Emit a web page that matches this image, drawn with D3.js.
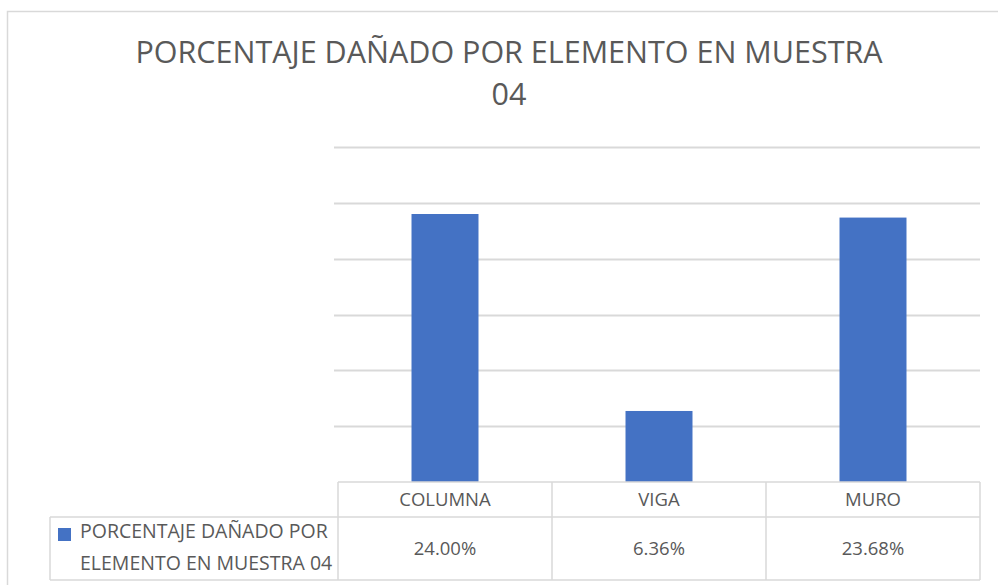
<!DOCTYPE html>
<html>
<head>
<meta charset="utf-8">
<script src="https://cdn.jsdelivr.net/npm/d3@7"></script>
<style>
  body { margin: 0; background: #fff; }
  text { font-family: "Open Sans", sans-serif; fill: #595959; }
</style>
</head>
<body>
<div id="chart"></div>
<script>
// data
var categories = ["COLUMNA", "VIGA", "MURO"];
var values = [24.00, 6.36, 23.68];
var valueLabels = ["24.00%", "6.36%", "23.68%"];
var seriesName = ["PORCENTAJE DAÑADO POR", "ELEMENTO EN MUESTRA 04"];
var yTicks = [0, 5, 10, 15, 20, 25, 30];

var width = 998, height = 585;
var svg = d3.select("#chart").append("svg").attr("width", width).attr("height", height);

// chart area frame
svg.append("rect")
  .attr("x", 7.5).attr("y", 11.5).attr("width", 1000).attr("height", 600)
  .attr("fill", "#fff").attr("stroke", "#d9d9d9").attr("stroke-width", 1.5);

// title
var title = svg.append("text").attr("text-anchor", "middle").attr("font-size", 30.5);
title.append("tspan").attr("x", 509).attr("y", 63).text("PORCENTAJE DAÑADO POR ELEMENTO EN MUESTRA");
title.append("tspan").attr("x", 509).attr("y", 105).text("04");

var plotLeft = 338, plotRight = 980, plotTop = 147, plotBottom = 482;

var x = d3.scaleBand().domain(categories).range([plotLeft, plotRight]).padding(0);
var y = d3.scaleLinear().domain([0, 30]).range([plotBottom, plotTop]);

// gridlines
svg.append("g").selectAll("line")
  .data(yTicks.slice(1))
  .join("line")
    .attr("x1", plotLeft - 4).attr("x2", plotRight)
    .attr("y1", d => Math.round(y(d)) + 0.5).attr("y2", d => Math.round(y(d)) + 0.5)
    .attr("stroke", "#d9d9d9").attr("stroke-width", 2);

// bars
var barW = x.bandwidth() * 0.313;
svg.append("g").selectAll("rect")
  .data(values)
  .join("rect")
    .attr("x", (d, i) => x(categories[i]) + (x.bandwidth() - barW) / 2)
    .attr("y", d => y(d))
    .attr("width", barW)
    .attr("height", d => y(0) - y(d))
    .attr("fill", "#4472c4");

// data table
var rowTop = 482, rowMid = 517, rowBottom = 580, legendLeft = 50;
var tbl = svg.append("g").attr("stroke", "#d9d9d9").attr("stroke-width", 1.5);
tbl.append("line").attr("x1", plotLeft).attr("x2", plotRight).attr("y1", rowTop).attr("y2", rowTop);
tbl.append("line").attr("x1", legendLeft).attr("x2", plotRight).attr("y1", rowMid).attr("y2", rowMid);
tbl.append("line").attr("x1", legendLeft).attr("x2", plotRight).attr("y1", rowBottom).attr("y2", rowBottom);
tbl.append("line").attr("x1", legendLeft).attr("x2", legendLeft).attr("y1", rowMid).attr("y2", rowBottom);
tbl.selectAll("line.v")
  .data(categories.map(c => x(c)).concat([plotRight]))
  .join("line").attr("class", "v")
    .attr("x1", d => d).attr("x2", d => d)
    .attr("y1", rowTop).attr("y2", rowBottom);

svg.append("g").selectAll("text")
  .data(categories)
  .join("text")
    .attr("x", d => x(d) + x.bandwidth() / 2)
    .attr("y", 506)
    .attr("text-anchor", "middle")
    .attr("font-size", 18.5)
    .text(d => d);

svg.append("g").selectAll("text")
  .data(valueLabels)
  .join("text")
    .attr("x", (d, i) => x(categories[i]) + x.bandwidth() / 2)
    .attr("y", 555)
    .attr("text-anchor", "middle")
    .attr("font-size", 18.5)
    .text(d => d);

// legend key
svg.append("rect").attr("x", 58).attr("y", 528).attr("width", 13).attr("height", 13).attr("fill", "#4472c4");
var leg = svg.append("text").attr("font-size", 19.5);
leg.append("tspan").attr("x", 80).attr("y", 538).text(seriesName[0]);
leg.append("tspan").attr("x", 80).attr("y", 570).text(seriesName[1]);
</script>
</body>
</html>
